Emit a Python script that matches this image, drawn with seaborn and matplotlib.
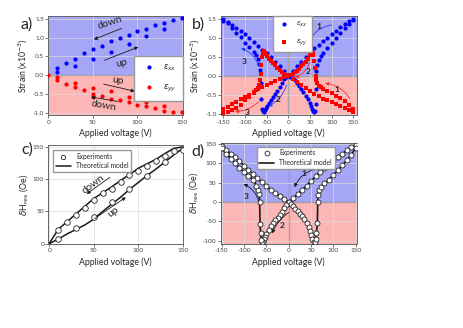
import matplotlib
matplotlib.use('Agg')
import matplotlib.pyplot as plt
from matplotlib.lines import Line2D
import numpy as np
import pandas as pd
import seaborn as sns

# ---------------- panel a : strain vs voltage (0..150 V) ----------------
a_xx_up_v = [10, 30, 50, 70, 90, 110, 130]
a_xx_up_s = [0.10, 0.25, 0.43, 0.62, 0.84, 1.04, 1.22]
a_xx_dn_v = [150, 140, 130, 120, 110, 100, 90, 80, 70, 60, 50, 40, 30, 20, 10]
a_xx_dn_s = [1.52, 1.47, 1.39, 1.32, 1.23, 1.18, 1.06, 0.99, 0.92, 0.78, 0.69, 0.60, 0.44, 0.33, 0.19]
a_yy_up_v = [0, 10, 30, 50, 50, 70, 90, 110, 130]
a_yy_up_s = [0.0, -0.04, -0.19, -0.33, -0.58, -0.42, -0.57, -0.71, -0.82]
a_yy_dn_v = [150, 140, 130, 120, 110, 100, 90, 80, 70, 60, 50, 40, 30, 20, 10]
a_yy_dn_s = [-0.97, -0.98, -0.94, -0.85, -0.82, -0.78, -0.71, -0.66, -0.63, -0.55, -0.48, -0.39, -0.32, -0.23, -0.12]

# ---------------- panel b : bipolar strain butterfly ----------------
b_xx_v = ([10, 20, 30, 40, 50, 60, 70, 80, 90, 100, 110, 120, 130, 140, 150]
          + [5, 10, 15, 20, 25, 30, 35, 40, 45, 50, 53, 55, 57, 59, 61, 63, 64]
          + [65, 67, 70, 75, 80, 90, 100, 110, 120, 130, 140, 150]
          + [-10, -20, -30, -40, -50, -60, -70, -80, -90, -100, -110, -120, -130, -140, -150]
          + [-5, -10, -15, -20, -25, -30, -35, -40, -45, -50, -52, -54, -56, -58, -60, -62, -64]
          + [-65, -67, -70, -75, -80, -90, -100, -110, -120, -130, -140, -150])
b_xx_s = ([0.13, 0.26, 0.38, 0.50, 0.62, 0.73, 0.83, 0.92, 1.01, 1.11, 1.20, 1.29, 1.38, 1.46, 1.52]
          + [-0.02, -0.06, -0.12, -0.19, -0.27, -0.35, -0.44, -0.53, -0.62, -0.72, -0.80, -0.87, -0.93, -0.96, -0.92, -0.75, -0.35]
          + [0.12, 0.30, 0.42, 0.52, 0.60, 0.74, 0.87, 1.00, 1.13, 1.26, 1.38, 1.47]
          + [0.12, 0.25, 0.37, 0.49, 0.60, 0.70, 0.80, 0.90, 1.00, 1.10, 1.19, 1.28, 1.36, 1.44, 1.50]
          + [-0.03, -0.08, -0.18, -0.30, -0.39, -0.47, -0.56, -0.64, -0.73, -0.81, -0.86, -0.90, -0.95, -0.93, -0.88, -0.60, -0.20]
          + [0.15, 0.32, 0.45, 0.55, 0.63, 0.76, 0.88, 1.02, 1.15, 1.28, 1.40, 1.46])
b_yy_v = ([10, 20, 30, 40, 50, 60, 70, 80, 90, 100, 110, 120, 130, 140, 150]
          + [0, 5, 10, 15, 20, 25, 30, 35, 40, 45, 50, 52, 54, 56, 58, 60, 62, 64]
          + [65, 67, 70, 75, 80, 90, 100, 110, 120, 130, 140, 150]
          + [-10, -20, -30, -40, -50, -60, -70, -80, -90, -100, -110, -120, -130, -140, -150]
          + [-5, -10, -15, -20, -25, -30, -35, -40, -45, -50, -52, -54, -56, -58, -60, -62, -64]
          + [-65, -67, -70, -75, -80, -90, -100, -110, -120, -130, -140, -150])
b_yy_s = ([-0.07, -0.15, -0.24, -0.33, -0.41, -0.48, -0.54, -0.60, -0.65, -0.70, -0.75, -0.80, -0.85, -0.90, -0.96]
          + [0.0, 0.03, 0.06, 0.10, 0.14, 0.19, 0.25, 0.31, 0.38, 0.46, 0.55, 0.60, 0.64, 0.62, 0.55, 0.40, 0.20, 0.0]
          + [-0.10, -0.20, -0.26, -0.30, -0.34, -0.40, -0.46, -0.52, -0.58, -0.66, -0.76, -0.88]
          + [-0.04, -0.09, -0.14, -0.19, -0.24, -0.30, -0.36, -0.43, -0.50, -0.56, -0.62, -0.68, -0.75, -0.82, -0.88]
          + [0.02, 0.05, 0.10, 0.16, 0.22, 0.28, 0.34, 0.40, 0.46, 0.53, 0.58, 0.62, 0.65, 0.60, 0.50, 0.30, 0.05]
          + [-0.10, -0.25, -0.33, -0.38, -0.45, -0.55, -0.65, -0.78, -0.85, -0.91, -0.95, -0.98])

# ---------------- panel c : dH_res unipolar ----------------
c_exp_v = [10, 30, 50, 70, 90, 110, 130, 150,
           140, 130, 120, 110, 100, 90, 80, 70, 60, 50, 40, 30, 20, 10]
c_exp_h = [7, 24, 41, 64, 85, 105, 126, 146,
           143, 136, 128, 121, 113, 106, 96, 85, 78, 67, 56, 44, 33, 21]
c_up_v = [0, 10, 20, 30, 40, 50, 60, 70, 80, 90, 100, 110, 120, 130, 140, 150]
c_up_h = [0, 7, 15, 22, 29, 38, 50, 61, 72, 84, 95, 106, 116, 127, 138, 148]
c_dn_v = [150, 140, 130, 120, 110, 100, 90, 80, 70, 60, 50, 40, 30, 20, 10, 0]
c_dn_h = [150, 148, 140, 131, 124, 117, 107, 98, 88, 79, 70, 58, 46, 34, 22, 0]

# ---------------- panel d : dH_res bipolar ----------------
d_upR_v = [0, 10, 20, 30, 40, 50, 60, 70, 80, 90, 100, 110, 120, 130, 140, 150]
d_upR_h = [0, 10, 20, 31, 42, 54, 66, 77, 88, 98, 108, 117, 125, 133, 141, 148]
d_dipR_v = [5, 10, 15, 20, 25, 30, 35, 40, 45, 48, 50, 53, 56, 58, 60, 62, 64, 65]
d_dipR_h = [-5, -11, -17, -24, -31, -37, -45, -54, -64, -76, -85, -96, -104, -102, -95, -80, -55, 0]
d_inR_v = [66, 68, 72, 80, 90, 100, 110, 120, 130, 140, 150]
d_inR_h = [18, 30, 38, 48, 58, 70, 82, 95, 108, 122, 140]
d_upL_v = [-10, -20, -30, -40, -50, -60, -70, -80, -90, -100, -110, -120, -130, -140, -150]
d_upL_h = [7, 15, 23, 32, 41, 51, 61, 72, 83, 94, 105, 115, 125, 135, 145]
d_dipL_v = [-5, -10, -15, -20, -25, -30, -35, -40, -45, -50, -53, -55, -57, -59, -61, -63, -64, -65]
d_dipL_h = [-7, -16, -25, -33, -40, -47, -55, -63, -72, -82, -90, -96, -102, -104, -98, -80, -57, 0]
d_inL_v = [-66, -68, -72, -79, -90, -101, -110, -120, -130, -140, -150]
d_inL_h = [20, 31, 42, 57, 68, 78, 88, 100, 112, 125, 138]

BLUE_BG = '#a6a6f6'
PINK_BG = '#fdb6b6'

sns.set_theme(style='ticks')
plt.rcParams['font.family'] = ['Lato', 'DejaVu Sans']
plt.rcParams['mathtext.fontset'] = 'dejavusans'
plt.rcParams['axes.unicode_minus'] = False

fig = plt.figure(figsize=(4.63, 3.28), dpi=100)
ax_a = fig.add_axes([0.1043, 0.6479, 0.2909, 0.3034])
ax_b = fig.add_axes([0.4767, 0.6479, 0.2937, 0.3034])
ax_c = fig.add_axes([0.1043, 0.2552, 0.2909, 0.3027])
ax_d = fig.add_axes([0.4767, 0.2552, 0.2937, 0.3098])

LAB = 6.3


def style(ax, xlim, ylim, xticks, yticks):
    ax.set_xlim(xlim)
    ax.set_ylim(ylim)
    ax.set_xticks(xticks)
    ax.set_yticks(yticks)
    ax.tick_params(labelsize=4.6, length=2, width=0.5, pad=1, colors='#444444')
    for sp in ax.spines.values():
        sp.set_linewidth(0.7)
        sp.set_color('#666666')
    ax.set_axisbelow('line')
    ax.grid(True, color='#dcdcdc', lw=0.5)
    ax.set_xlabel('Applied voltage (V)', fontsize=LAB, labelpad=3)


def shade(ax):
    ax.axhspan(0, 1000, color=BLUE_BG, lw=0, zorder=0.2)
    ax.axhspan(-1000, 0, color=PINK_BG, lw=0, zorder=0.2)


def arrow(ax, start, end, color='k', rad=0.0, lw=0.6):
    ax.annotate('', xy=end, xytext=start,
                arrowprops=dict(arrowstyle='-|>', color=color, lw=lw, mutation_scale=5,
                                shrinkA=0, shrinkB=0, connectionstyle=f'arc3,rad={rad}'))


# ---- a ----
shade(ax_a)
ax_a.axhline(0, color='#333333', lw=0.8, zorder=1)
sns.scatterplot(x=a_xx_up_v + a_xx_dn_v, y=a_xx_up_s + a_xx_dn_s, ax=ax_a, color='#0000ff',
                s=9, linewidth=0, label=r'$\varepsilon_{xx}$', zorder=3)
sns.scatterplot(x=a_yy_up_v + a_yy_dn_v, y=a_yy_up_s + a_yy_dn_s, ax=ax_a, color='#ff0000',
                s=9, linewidth=0, label=r'$\varepsilon_{yy}$', zorder=3)
style(ax_a, (0, 151), (-1.06, 1.57), [0, 50, 100, 150], [-1.0, -0.5, 0.0, 0.5, 1.0, 1.5])
ax_a.set_ylabel('Strain (x10$^{-3}$)', fontsize=LAB, labelpad=2)
ax_a.legend(loc='upper right', bbox_to_anchor=(1.0, 0.6), fontsize=6, frameon=True,
            fancybox=False, edgecolor='#999999', framealpha=1, borderaxespad=0,
            labelspacing=1.2, handletextpad=0.6, borderpad=0.8, markerscale=1.0)
arrow(ax_a, (82, 1.24), (51, 0.95))
ax_a.text(69, 1.39, 'down', rotation=18, ha='center', va='center', fontsize=7.5)
arrow(ax_a, (63, 0.40), (101, 0.75))
ax_a.text(82, 0.33, 'up', rotation=15, ha='center', va='center', fontsize=7.5)
arrow(ax_a, (62, -0.23), (97, -0.42))
ax_a.text(78, -0.15, 'up', rotation=-10, ha='center', va='center', fontsize=7.5)
arrow(ax_a, (78, -0.69), (48, -0.57))
ax_a.text(62, -0.80, 'down', rotation=-10, ha='center', va='center', fontsize=7.5)

# ---- b ----
shade(ax_b)
ax_b.axhline(0, color='#333333', lw=0.8, zorder=1)
ax_b.axvline(0, color='#222222', lw=0.8, zorder=1)
sns.scatterplot(x=b_xx_v, y=b_xx_s, ax=ax_b, color='#0000ff', s=9, linewidth=0,
                label=r'$\varepsilon_{xx}$', zorder=3)
sns.scatterplot(x=b_yy_v, y=b_yy_s, ax=ax_b, color='#ff0000', marker='s', s=8, linewidth=0,
                label=r'$\varepsilon_{yy}$', zorder=3)
style(ax_b, (-156, 158), (-1.05, 1.59), [-150, -100, -50, 0, 50, 100, 150],
      [-1.0, -0.5, 0.0, 0.5, 1.0, 1.5])
ax_b.set_ylabel('Strain (x10$^{-3}$)', fontsize=LAB, labelpad=2)
ax_b.legend(loc='upper left', bbox_to_anchor=(0.382, 1.0), fontsize=5, frameon=True,
            fancybox=False, edgecolor='#999999', framealpha=1, borderaxespad=0,
            labelspacing=1.2, handletextpad=0.8, borderpad=0.6)
arrow(ax_b, (100, 1.35), (50, 0.95), color='#2040ff', rad=0.25)
ax_b.text(71, 1.30, '1', fontsize=6, fontweight='bold', color='#222222', ha='center', va='center')
arrow(ax_b, (142, -0.60), (85, -0.20), color='#ff3030', rad=0.25)
ax_b.text(113, -0.36, '1', fontsize=6, fontweight='bold', color='#222222', ha='center', va='center')
arrow(ax_b, (-4, -0.25), (-46, -0.81), color='#2040ff', rad=-0.2)
ax_b.text(-23, -0.62, '2', fontsize=6, fontweight='bold', color='#222222', ha='center', va='center')
arrow(ax_b, (50, 0.37), (15, -0.04), color='#ff3030', rad=-0.25)
ax_b.text(46, 0.12, '2', fontsize=6, fontweight='bold', color='#222222', ha='center', va='center')
arrow(ax_b, (-69, 0.28), (-109, 0.73), color='#2040ff', rad=0.25)
ax_b.text(-102, 0.39, '3', fontsize=6, fontweight='bold', color='#222222', ha='center', va='center')
arrow(ax_b, (-69, -0.69), (-123, -0.94), color='#ff3030', rad=-0.2)
ax_b.text(-94, -0.98, '3', fontsize=6, fontweight='bold', color='#222222', ha='center', va='center')

# ---- c ----
sns.lineplot(x=c_up_v, y=c_up_h, ax=ax_c, color='k', lw=1.1, sort=False, estimator=None,
             label='Theoretical model', zorder=2)
sns.lineplot(x=c_dn_v, y=c_dn_h, ax=ax_c, color='k', lw=1.1, sort=False, estimator=None, zorder=2)
sns.scatterplot(x=c_exp_v, y=c_exp_h, ax=ax_c, facecolor='white', edgecolor='#222222',
                s=16, linewidth=0.6, label='Experiments', zorder=3)
style(ax_c, (-1, 150), (-1, 153), [0, 50, 100, 150], [0, 50, 100, 150])
ax_c.set_ylabel(r'$\delta$H$_{\rm res}$ (Oe)', fontsize=LAB, labelpad=2)
h, l = ax_c.get_legend_handles_labels()
ax_c.legend(h[::-1], l[::-1], loc='upper left', bbox_to_anchor=(0.037, 0.95), fontsize=4.8,
            frameon=True, fancybox=False, edgecolor='#999999', framealpha=1, borderaxespad=0,
            labelspacing=0.4, handlelength=2.2, borderpad=0.4, markerscale=0.8)
arrow(ax_c, (51, 39), (86, 72))
ax_c.text(72, 50, 'up', rotation=37, ha='center', va='center', fontsize=7.5)
arrow(ax_c, (68, 103), (42, 77))
ax_c.text(49, 92, 'down', rotation=37, ha='center', va='center', fontsize=7.5)

# ---- d ----
shade(ax_d)
ax_d.axhline(0, color='#222222', lw=0.8, zorder=1)
ax_d.axvline(0, color='#222222', lw=0.8, zorder=1)
for xs, ys in [(d_upR_v, d_upR_h), (d_dipR_v, d_dipR_h), (d_inR_v, d_inR_h),
               ([0] + d_upL_v, [0] + d_upL_h), ([0] + d_dipL_v, [0] + d_dipL_h),
               (d_inL_v, d_inL_h)]:
    sns.lineplot(x=xs, y=ys, ax=ax_d, color='k', lw=1.2, sort=False, estimator=None, zorder=2)
ax_d.plot([d_dipR_v[-1], d_inR_v[0]], [d_dipR_h[-1], d_inR_h[0]], color='k', lw=1.2, zorder=2)
ax_d.plot([d_dipL_v[-1], d_inL_v[0]], [d_dipL_h[-1], d_inL_h[0]], color='k', lw=1.2, zorder=2)
d_all_v = d_upR_v + d_dipR_v + d_inR_v + d_upL_v + d_dipL_v + d_inL_v
d_all_h = d_upR_h + d_dipR_h + d_inR_h + d_upL_h + d_dipL_h + d_inL_h
sns.scatterplot(x=d_all_v, y=d_all_h, ax=ax_d, facecolor='white', edgecolor='#222222',
                s=13, linewidth=0.6, zorder=3)
style(ax_d, (-152, 152), (-109, 153), [-150, -100, -50, 0, 50, 100, 150],
      [-100, -50, 0, 50, 100, 150])
ax_d.set_ylabel(r'$\delta$H$_{\rm res}$ (Oe)', fontsize=LAB, labelpad=2)
hd = [Line2D([], [], ls='', marker='o', mfc='white', mec='#222222', ms=3.5, mew=0.6),
      Line2D([], [], color='k', lw=1.2)]
ax_d.legend(hd, ['Experiments', 'Theoretical model'], loc='upper left',
            bbox_to_anchor=(0.265, 0.96), fontsize=4.8, frameon=True, fancybox=False,
            edgecolor='#999999', framealpha=1, borderaxespad=0, labelspacing=0.4,
            handlelength=2.2, borderpad=0.4)
arrow(ax_d, (60, 85), (13, 38), rad=0.25)
ax_d.text(34, 74, '1', fontsize=6, fontweight='bold', color='#222244', ha='center', va='center')
arrow(ax_d, (0, -27), (-37, -81), rad=0.15)
ax_d.text(-15, -61, '2', fontsize=6, fontweight='bold', color='#222244', ha='center', va='center')
arrow(ax_d, (-67, 1), (-101, 46), rad=0.25)
ax_d.text(-96, 14, '3', fontsize=6, fontweight='bold', color='#222244', ha='center', va='center')

for txt, x, y in [('a)', 0.058, 0.924), ('b)', 0.428, 0.924), ('c)', 0.058, 0.543), ('d)', 0.428, 0.537)]:
    fig.text(x, y, txt, fontsize=11.5, ha='center', va='center')

fig.savefig('out.png', dpi=100)
